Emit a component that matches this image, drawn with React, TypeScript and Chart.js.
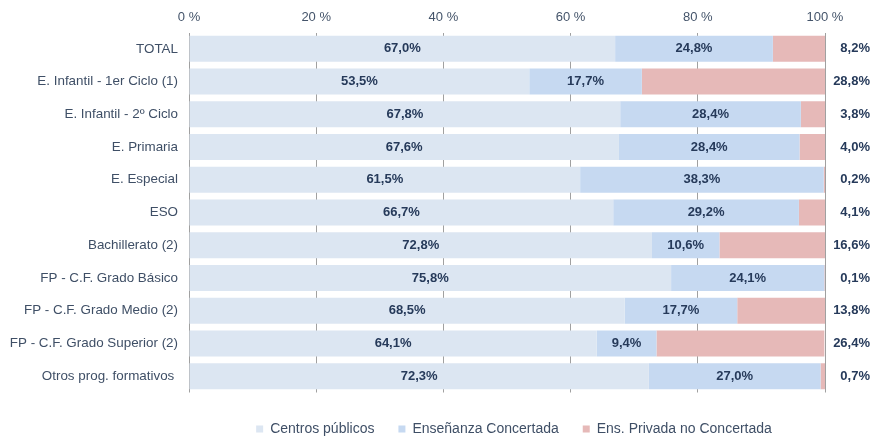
import React, { useEffect, useRef } from "react";
import { Chart, registerables } from "chart.js";

Chart.register(...registerables);

const categories = [
  "TOTAL",
  "E. Infantil - 1er Ciclo (1)",
  "E. Infantil - 2º Ciclo",
  "E. Primaria",
  "E. Especial",
  "ESO",
  "Bachillerato (2)",
  "FP - C.F. Grado Básico",
  "FP - C.F. Grado Medio (2)",
  "FP - C.F. Grado Superior (2)",
  "Otros prog. formativos ",
];

const publicos = [67.0, 53.5, 67.8, 67.6, 61.5, 66.7, 72.8, 75.8, 68.5, 64.1, 72.3];
const concertada = [24.8, 17.7, 28.4, 28.4, 38.3, 29.2, 10.6, 24.1, 17.7, 9.4, 27.0];
const privada = [8.2, 28.8, 3.8, 4.0, 0.2, 4.1, 16.6, 0.1, 13.8, 26.4, 0.7];

const seriesNames = ["Centros públicos", "Enseñanza Concertada", "Ens. Privada no Concertada"];
const seriesColors = ["#dce6f2", "#c6d9f1", "#e6b9b8"];
const xTicks = [0, 20, 40, 60, 80, 100];

const FONT = "'Liberation Sans', Arial, Helvetica, sans-serif";
const LABEL_COLOR = "#263a5a";
const AXIS_COLOR = "#44546a";

const fmt = (v: number) => v.toFixed(1).replace(".", ",") + "%";

const valueLabels = {
  id: "valueLabels",
  afterDatasetsDraw(chart: any) {
    const ctx = chart.ctx;
    const area = chart.chartArea;
    ctx.save();
    ctx.font = `bold 13px ${FONT}`;
    ctx.fillStyle = LABEL_COLOR;
    ctx.textBaseline = "middle";
    chart.data.datasets.forEach((ds: any, di: number) => {
      const meta = chart.getDatasetMeta(di);
      meta.data.forEach((bar: any, i: number) => {
        const v = ds.data[i] as number;
        if (di < 2) {
          ctx.textAlign = "center";
          ctx.fillText(fmt(v), (bar.base + bar.x) / 2, bar.y);
        } else {
          ctx.textAlign = "right";
          ctx.fillText(fmt(v), area.right + 45, bar.y);
        }
      });
    });
    ctx.restore();
  },
};

const legendPlacer = {
  id: "legendPlacer",
  beforeDraw(chart: any) {
    const lg = chart.legend;
    if (!lg) return;
    lg.left = 147;
    lg.right = 881;
    lg.top = 398;
  },
};

export default function App() {
  const ref = useRef<HTMLCanvasElement | null>(null);
  useEffect(() => {
    if (!ref.current) return;
    const chart = new Chart(ref.current, {
      type: "bar",
      data: {
        labels: categories,
        datasets: [publicos, concertada, privada].map((d, i) => ({
          label: seriesNames[i],
          data: d,
          backgroundColor: seriesColors[i],
          borderWidth: 0,
          barPercentage: 0.795,
          categoryPercentage: 1,
        })),
      },
      options: {
        indexAxis: "y",
        responsive: false,
        animation: false,
        layout: { padding: { left: 0, right: 56, top: 0, bottom: -3.5 } },
        scales: {
          x: {
            position: "top",
            stacked: true,
            min: 0,
            max: 100,
            afterBuildTicks: (s: any) => {
              s.ticks = xTicks.map((v) => ({ value: v }));
            },
            afterFit: (s: any) => {
              s.height = 32.5;
            },
            ticks: {
              padding: 7,
              color: AXIS_COLOR,
              font: { family: FONT, size: 13 },
              callback: (v: any) => `${v} %`,
            },
            grid: { color: "#a0a0a0", lineWidth: 1, drawTicks: false },
            border: { display: false },
          },
          y: {
            stacked: true,
            afterFit: (s: any) => {
              s.width = 189;
            },
            ticks: {
              padding: 11,
              color: "#3f4f66",
              font: { family: FONT, size: 13.4 },
            },
            grid: { display: false, drawTicks: false },
            border: { display: false },
          },
        },
        plugins: {
          legend: {
            position: "bottom",
            labels: {
              boxWidth: 7,
              boxHeight: 7,
              padding: 24,
              color: "#3f4f66",
              font: { family: FONT, size: 14 },
            },
          },
          tooltip: { enabled: false },
        },
      },
      plugins: [valueLabels, legendPlacer],
    });
    return () => chart.destroy();
  }, []);
  return (
    <div style={{ position: "absolute", left: 0, top: 0, width: 881, height: 437, background: "#fff" }}>
      <canvas ref={ref} width={881} height={437} />
    </div>
  );
}
